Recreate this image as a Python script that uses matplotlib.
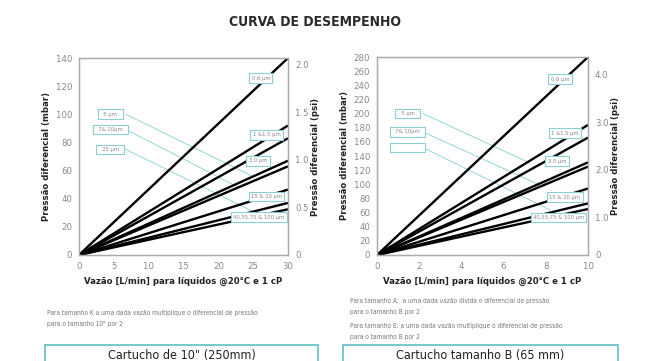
import numpy as np
import matplotlib
matplotlib.use("Agg")
import matplotlib.pyplot as plt
from matplotlib.patches import Rectangle

plt.rcParams["font.family"] = ["DejaVu Sans"]
plt.rcParams["font.stretch"] = "condensed"

# data: end values (mbar) of each straight line at max flow
size10_flow = [0, 30]
size10_ends = [140, 92, 83, 67, 63, 46.5, 37, 32.5]
sizeB_flow = [0, 10]
sizeB_ends = [280, 184, 166, 131, 125, 94, 73, 65]

right_labels = ["0.6 µm", "1 &1.5 µm", "3.0 µm", "15 & 20 µm", "40,55,75 & 100 µm"]
left_labels_10 = ["5 µm", "7& 10µm", "25 µm"]
left_labels_B = ["5 µm", "7& 10µm", ""]

title = "CURVA DE DESEMPENHO"
xlab = "Vazão [L/min] para líquidos @20°C e 1 cP"
ylab_l = "Pressão diferencial (mbar)"
ylab_r = "Pressão diferencial (psi)"

cyan = "#8acfd1"
grey = "#888888"
dark = "#222222"

W, H = 665, 361
fig = plt.figure(figsize=(W / 100, H / 100), dpi=100)


def px(x0, y0, x1, y1):
    return [x0 / W, 1 - y1 / H, (x1 - x0) / W, (y1 - y0) / H]


def style(ax):
    for s in ax.spines.values():
        s.set_color("#aaaaaa")
        s.set_linewidth(0.9)
    ax.tick_params(length=0, labelsize=6.8, labelcolor=grey, pad=5)


def panel(rect, flow, ends, ymax, yticks, xticks, psi_lim, psi_ticks, psi_labels,
          rlab_pos, llab_pos, leaders, llabels):
    ax = fig.add_axes(rect)
    for e in ends:
        ax.plot(flow, [0, e], color="black", lw=1.7, solid_capstyle="butt")
    ax.set_xlim(flow[0], flow[1])
    ax.set_ylim(0, ymax)
    ax.set_xticks(xticks)
    ax.set_yticks(yticks)
    style(ax)
    ax.set_xlabel(xlab, fontsize=6.8, fontweight="bold", color=dark, labelpad=4)
    ax.set_ylabel(ylab_l, fontsize=6.8, fontweight="bold", color=dark, labelpad=3)

    box = dict(boxstyle="square,pad=0.4", fc="white", ec=cyan, lw=0.8)
    for (x, y), t in zip(rlab_pos, right_labels):
        ax.text(x, y, t, fontsize=4.2, color=grey, ha="center", va="center", bbox=box)
    for (x, y), (ex, ey), t in zip(llab_pos, leaders, llabels):
        ax.plot([x + 2.2 * flow[1] / 30, ex], [y, ey], color=cyan, lw=0.6, zorder=1)
        ax.text(x, y, "  " + t + "  " if t else "\u2007" * 9, fontsize=4.2, color=grey,
                ha="center", va="center", bbox=box)

    ax2 = ax.twinx()
    ax2.set_ylim(*psi_lim)
    ax2.set_yticks(psi_ticks)
    ax2.set_yticklabels(psi_labels)
    style(ax2)
    ax2.set_ylabel(ylab_r, fontsize=6.8, fontweight="bold", color=dark, labelpad=2)
    return ax


panel(px(79, 58, 288, 255), size10_flow, size10_ends, 140,
      np.arange(0, 141, 20), np.arange(0, 31, 5),
      (0, 2.07), [0, 0.5, 1.0, 1.5, 2.0], ["0", "0.5", "1.0", "1.5", "2.0"],
      [(26.1, 125.6), (26.9, 85.3), (25.7, 67), (26.9, 41.6), (25.8, 27)],
      [(4.5, 100), (4.5, 89.3), (4.5, 75)],
      [(25.0, 55.7), (22.6, 48.8), (25.0, 30.9)], left_labels_10)

panel(px(377, 57, 588, 255), sizeB_flow, sizeB_ends, 280,
      np.arange(0, 281, 20), np.arange(0, 11, 2),
      (0.2, 4.37), [0.2, 1, 2, 3, 4], ["0", "1.0", "2.0", "3.0", "4.0"],
      [(8.67, 248.8), (8.91, 172.5), (8.53, 132.8), (8.91, 82), (8.6, 53.2)],
      [(1.45, 200), (1.45, 174), (1.45, 152)],
      [(7.25, 130), (7.57, 101), (8.2, 63.6)], left_labels_B)

fig.text(315 / W, 1 - 22 / H, title, fontsize=10, fontweight="bold", color="#2b2b2b",
         ha="center", va="center")

note_kw = dict(fontsize=4.7, color="#777777", ha="left", va="center")
fig.text(47 / W, 1 - 313 / H, "Para tamanho K a uma dada vazão multiplique o diferencial de pressão", **note_kw)
fig.text(47 / W, 1 - 324 / H, "para o tamanho 10\" por 2", **note_kw)
fig.text(350 / W, 1 - 301 / H, "Para tamanho A:  a uma dada vazão divida o diferencial de pressão", **note_kw)
fig.text(350 / W, 1 - 312 / H, "para o tamanho B por 2", **note_kw)
fig.text(350 / W, 1 - 326 / H, "Para tamanho E: a uma dada vazão multiplique o diferencial de pressão", **note_kw)
fig.text(350 / W, 1 - 337 / H, "para o tamanho B por 2", **note_kw)

for x0, x1, t in [(45, 318, "Cartucho de 10\" (250mm)"), (343, 618, "Cartucho tamanho B (65 mm)")]:
    fig.patches.append(Rectangle((x0 / W, 1 - 370 / H), (x1 - x0) / W, 25 / H,
                                 transform=fig.transFigure, fill=False, ec="#6cc4c8", lw=1.3))
    fig.text((x0 + x1) / 2 / W, 1 - 355 / H, t, fontsize=9, color=dark, ha="center", va="center")

fig.savefig("out.png", dpi=100)
